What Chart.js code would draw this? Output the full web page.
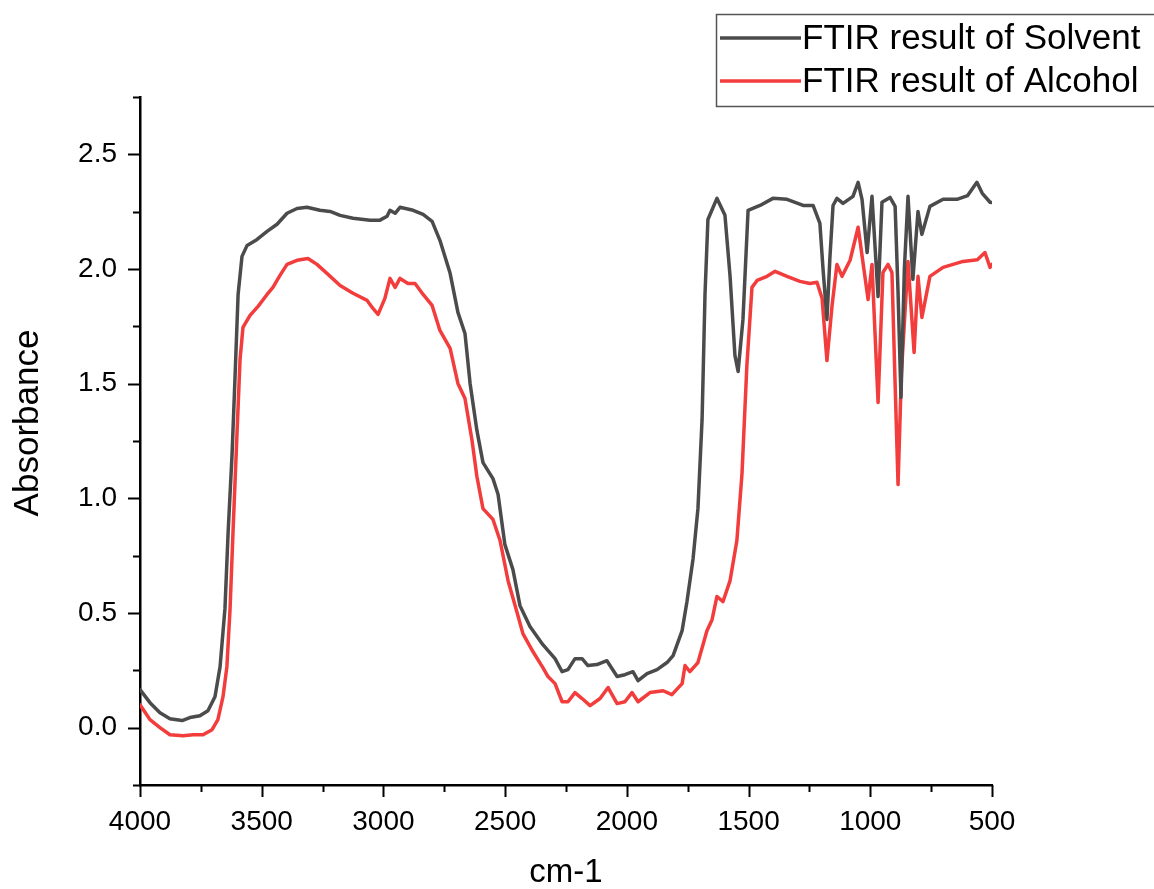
<!DOCTYPE html>
<html>
<head>
<meta charset="utf-8">
<title>FTIR result</title>
<script src="https://cdn.jsdelivr.net/npm/chart.js@4.4.0/dist/chart.umd.min.js"></script>
<style>
  html, body { margin: 0; padding: 0; background: #fff; }
  #wrap { width: 1154px; height: 889px; }
</style>
</head>
<body>
<div id="wrap"><canvas id="ftir" width="1154" height="889"></canvas></div>
<script>
// ---- data ----
const solventWave = [4000, 3959, 3918, 3877, 3827, 3795, 3754, 3721, 3692, 3671, 3651, 3638, 3622, 3610, 3597,
  3581, 3560, 3519, 3478, 3437, 3396, 3355, 3314, 3261, 3219, 3178, 3125, 3055, 3014, 2985, 2973, 2952,
  2932, 2878, 2837, 2800, 2768, 2726, 2694, 2665, 2644, 2616, 2591, 2550, 2529, 2501, 2468, 2439, 2398,
  2345, 2295, 2266, 2242, 2213, 2184, 2160, 2123, 2082, 2040, 2008, 1975, 1954, 1917, 1876, 1835, 1810,
  1773, 1753, 1728, 1708, 1691, 1679, 1667, 1630, 1597, 1576, 1556, 1543, 1523, 1502, 1453, 1400, 1342,
  1276, 1235, 1207, 1194, 1178, 1166, 1153, 1137, 1112, 1071, 1050, 1034, 1013, 993, 968, 952, 919, 898,
  886, 874, 860, 845, 825, 804, 788, 755, 701, 644, 600, 562, 540, 508, 500];
const solventAbs = [0.166, 0.109, 0.065, 0.039, 0.031, 0.044, 0.052, 0.074, 0.135, 0.266, 0.519, 0.851, 1.187, 1.518, 1.889,
  2.055, 2.103, 2.129, 2.164, 2.195, 2.243, 2.264, 2.269, 2.256, 2.251, 2.234, 2.221, 2.213, 2.213, 2.230, 2.256, 2.243,
  2.269, 2.256, 2.238, 2.208, 2.125, 1.981, 1.811, 1.719, 1.501, 1.296, 1.156, 1.086, 1.017, 0.798, 0.689, 0.532, 0.441,
  0.362, 0.301, 0.244, 0.253, 0.301, 0.301, 0.271, 0.275, 0.292, 0.223, 0.231, 0.244, 0.205, 0.236, 0.253, 0.284, 0.314,
  0.423, 0.550, 0.737, 0.955, 1.344, 1.889, 2.216, 2.308, 2.234, 1.968, 1.623, 1.553, 1.780, 2.256, 2.277, 2.308, 2.304,
  2.277, 2.277, 2.199, 1.998, 1.780, 2.046, 2.277, 2.308, 2.286, 2.317, 2.378, 2.304, 2.072, 2.317, 1.880, 2.291, 2.312, 2.273,
  1.900, 1.440, 2.000, 2.317, 1.955, 2.251, 2.151, 2.273, 2.304, 2.304, 2.320, 2.378, 2.330, 2.291, 2.290];

const alcoholWave = [4000, 3959, 3918, 3877, 3823, 3782, 3741, 3704, 3680, 3659, 3643, 3630, 3618, 3602, 3589,
  3577, 3548, 3515, 3478, 3454, 3425, 3396, 3355, 3310, 3273, 3232, 3178, 3125, 3067, 3043, 3022, 2994,
  2973, 2952, 2932, 2899, 2870, 2837, 2800, 2768, 2726, 2694, 2665, 2636, 2616, 2591, 2550, 2521, 2488,
  2451, 2427, 2386, 2345, 2324, 2295, 2266, 2242, 2213, 2184, 2151, 2110, 2077, 2040, 2008, 1979, 1954,
  1905, 1851, 1815, 1773, 1761, 1741, 1708, 1671, 1650, 1630, 1605, 1576, 1548, 1527, 1507, 1486, 1465,
  1424, 1391, 1342, 1289, 1248, 1219, 1198, 1178, 1157, 1137, 1116, 1083, 1050, 1009, 993, 968, 948, 927,
  911, 898, 886, 872, 845, 820, 804, 788, 755, 701, 619, 560, 529, 508, 500];
const alcoholAbs = [0.100, 0.035, 0.000, -0.031, -0.035, -0.031, -0.031, -0.009, 0.035, 0.135, 0.266, 0.519, 0.851, 1.270, 1.606,
  1.745, 1.798, 1.837, 1.889, 1.920, 1.972, 2.020, 2.038, 2.046, 2.020, 1.981, 1.928, 1.894, 1.863, 1.828, 1.802, 1.872,
  1.959, 1.920, 1.959, 1.937, 1.937, 1.889, 1.841, 1.732, 1.654, 1.501, 1.435, 1.252, 1.095, 0.955, 0.908, 0.816, 0.641,
  0.502, 0.410, 0.332, 0.262, 0.223, 0.192, 0.113, 0.113, 0.153, 0.127, 0.096, 0.127, 0.175, 0.105, 0.113, 0.153, 0.113,
  0.153, 0.161, 0.144, 0.192, 0.271, 0.244, 0.284, 0.423, 0.471, 0.572, 0.550, 0.641, 0.816, 1.108, 1.579, 1.920, 1.950,
  1.968, 1.990, 1.968, 1.946, 1.937, 1.942, 1.872, 1.601, 1.841, 2.020, 1.968, 2.038, 2.182, 1.867, 2.020, 1.418, 1.985, 2.020,
  1.985, 1.500, 1.060, 1.550, 2.033, 1.636, 1.968, 1.789, 1.968, 2.007, 2.033, 2.040, 2.072, 2.007, 2.020];

const seriesNames = ['FTIR result of Solvent', 'FTIR result of Alcohol'];
const seriesColors = ['#4b4b4b', '#f33c3c'];
const xTicks = [4000, 3500, 3000, 2500, 2000, 1500, 1000, 500];
const yTicks = [0, 0.5, 1.0, 1.5, 2.0, 2.5];

const FONT = "Arial, 'Liberation Sans', sans-serif";

function toPoints(xs, ys) {
  return xs.map((x, i) => ({ x: x, y: ys[i] }));
}

// major + minor tick marks, drawn from the scales
const tickMarks = {
  id: 'tickMarks',
  afterDraw(chart) {
    const ctx = chart.ctx;
    const xs = chart.scales.x;
    const ys = chart.scales.y;
    ctx.save();
    ctx.strokeStyle = '#000';
    ctx.lineWidth = 2;
    ctx.beginPath();
    for (let i = 0; ; i++) {
      const v = xs.min + i * 250;
      if (v > xs.max + 1e-6) break;
      const px = Math.round(xs.getPixelForValue(v)) + 0.5;
      const len = (v % 500 === 0) ? 12 : 7;
      ctx.moveTo(px, xs.top);
      ctx.lineTo(px, xs.top + len);
    }
    for (let i = 0; ; i++) {
      const v = ys.min + i * 0.25;
      if (v > ys.max + 1e-6) break;
      const py = Math.round(ys.getPixelForValue(v)) + 0.5;
      const r = v / 0.5;
      const len = Math.abs(r - Math.round(r)) < 1e-6 ? 12 : 7;
      ctx.moveTo(ys.right, py);
      ctx.lineTo(ys.right - len, py);
    }
    ctx.stroke();
    ctx.restore();
  }
};

// y title and boxed legend in the top right corner
const decorations = {
  id: 'decorations',
  afterDraw(chart) {
    const ctx = chart.ctx;
    const area = chart.chartArea;
    ctx.save();
    ctx.fillStyle = '#000';
    ctx.font = '35px ' + FONT;
    ctx.textAlign = 'center';
    ctx.textBaseline = 'middle';
    ctx.translate(28, (area.top + area.bottom) / 2 - 18);
    ctx.rotate(-Math.PI / 2);
    ctx.fillText('Absorbance', 0, 0);
    ctx.restore();

    ctx.save();
    ctx.strokeStyle = '#555';
    ctx.lineWidth = 1.5;
    ctx.strokeRect(716.5, 14.5, 460, 92);
    const rows = [38, 81];
    chart.data.datasets.forEach((ds, i) => {
      ctx.strokeStyle = ds.borderColor;
      ctx.lineWidth = 3.5;
      ctx.beginPath();
      ctx.moveTo(720, rows[i]);
      ctx.lineTo(801, rows[i]);
      ctx.stroke();
      ctx.fillStyle = '#000';
      ctx.font = '35px ' + FONT;
      ctx.textAlign = 'left';
      ctx.textBaseline = 'middle';
      ctx.fillText(ds.label, 802, rows[i] + 1);
    });
    ctx.restore();
  }
};

function lineDataset(i, xs, ys) {
  return {
    label: seriesNames[i],
    data: toPoints(xs, ys),
    borderColor: seriesColors[i],
    borderWidth: 3.5,
    borderJoinStyle: 'round',
    borderCapStyle: 'round',
    pointRadius: 0,
    tension: 0,
    fill: false
  };
}

const chart = new Chart(document.getElementById('ftir'), {
  type: 'line',
  data: {
    datasets: [
      lineDataset(0, solventWave, solventAbs),
      lineDataset(1, alcoholWave, alcoholAbs)
    ]
  },
  options: {
    responsive: false,
    animation: false,
    parsing: false,
    layout: { padding: { left: 0, top: 97, right: 162, bottom: 0 } },
    plugins: {
      legend: { display: false },
      tooltip: { enabled: false }
    },
    scales: {
      x: {
        type: 'linear',
        reverse: true,
        min: 500,
        max: 4000,
        afterBuildTicks: s => { s.ticks = xTicks.map(v => ({ value: v })); },
        afterFit: s => { s.height = 104; },
        grid: { display: false, drawTicks: false },
        border: { display: true, color: '#000', width: 2.5 },
        ticks: {
          color: '#000',
          padding: 20,
          maxRotation: 0,
          autoSkip: false,
          font: { family: FONT, size: 28 },
          callback: v => String(v)
        },
        title: {
          display: true,
          text: 'cm-1',
          color: '#000',
          padding: 0,
          font: { family: FONT, size: 33, lineHeight: 1 }
        }
      },
      y: {
        type: 'linear',
        min: -0.25,
        max: 2.75,
        afterBuildTicks: s => { s.ticks = yTicks.map(v => ({ value: v })); },
        afterFit: s => { s.width = 140; },
        grid: { display: false, drawTicks: false },
        border: { display: true, color: '#000', width: 2.5 },
        ticks: {
          color: '#000',
          padding: 23,
          font: { family: FONT, size: 28 },
          callback: v => Number(v).toFixed(1)
        }
      }
    }
  },
  plugins: [tickMarks, decorations]
});
</script>
</body>
</html>
